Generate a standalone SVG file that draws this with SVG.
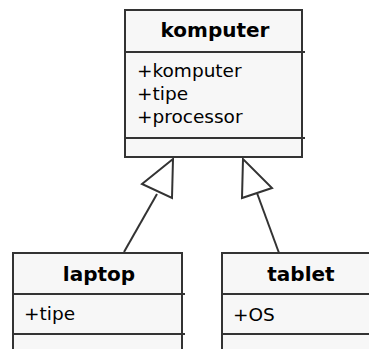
<svg xmlns="http://www.w3.org/2000/svg" width="369" height="349" viewBox="0 0 369 349">
<style>
.box{fill:#f7f7f7;stroke:#333;stroke-width:2}
.div{stroke:#333;stroke-width:2;fill:none}
.title{font-family:"DejaVu Sans",sans-serif;font-weight:bold;font-size:20px;fill:#000;text-anchor:middle}
.attr{font-family:"DejaVu Sans",sans-serif;font-size:18.5px;fill:#000}
.edge{stroke:#333;stroke-width:2;fill:none}
.head{stroke:#333;stroke-width:2;fill:#fff;stroke-linejoin:miter}
</style>
<rect width="369" height="349" fill="#fff"/>
<g id="komputer">
<rect class="box" x="125" y="10" width="177" height="147"/>
<path class="div" d="M125 52H305M125 138H305"/>
<text class="title" x="215" y="37">komputer</text>
<text class="attr" x="137" y="77">+komputer</text>
<text class="attr" x="137" y="100">+tipe</text>
<text class="attr" x="137" y="123">+processor</text>
</g>
<g id="laptop">
<rect class="box" x="13" y="253" width="169" height="120"/>
<path class="div" d="M13 294H185M13 334H185"/>
<text class="title" x="99" y="281">laptop</text>
<text class="attr" x="24" y="320">+tipe</text>
</g>
<g id="tablet">
<rect class="box" x="222" y="253" width="160" height="120"/>
<path class="div" d="M222 294H382M222 334H382"/>
<text class="title" x="301" y="281">tablet</text>
<text class="attr" x="233" y="321">+OS</text>
</g>
<g id="connectors">
<path class="edge" d="M124 252L157 194"/>
<polygon class="head" points="173,159 142,184 172,198"/>
<path class="edge" d="M279 253L257 193"/>
<polygon class="head" points="243,159 242,198 272,188"/>
</g>
</svg>
